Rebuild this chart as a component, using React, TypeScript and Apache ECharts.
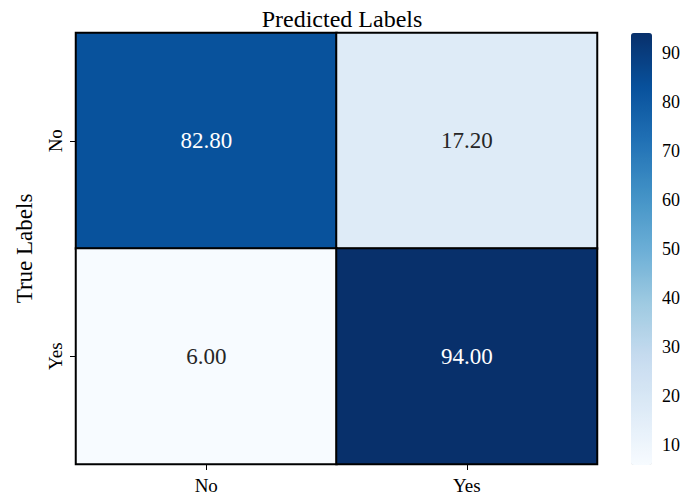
import React, { useEffect, useRef } from "react";
import * as echarts from "echarts";

const predictedLabels = ["No", "Yes"];
const trueLabels = ["No", "Yes"];
// rows = true label, cols = predicted label
const matrixValues = [
  [82.8, 17.2],
  [6.0, 94.0],
];
const colorbarTicks = [10, 20, 30, 40, 50, 60, 70, 80, 90];
const valueMin = 6;
const valueMax = 94;
const bluesColors = [
  "#f7fbff",
  "#deebf7",
  "#c6dbef",
  "#9ecae1",
  "#6baed6",
  "#4292c6",
  "#2171b5",
  "#08519c",
  "#08306b",
];

const FONT = "'Liberation Serif', 'Times New Roman', serif";

export default function App() {
  const ref = useRef<HTMLDivElement>(null);
  useEffect(() => {
    if (!ref.current) return;
    const chart = echarts.init(ref.current, null, { renderer: "svg" });
    const data: any[] = [];
    const mid = (valueMin + valueMax) / 2;
    matrixValues.forEach((row, r) => {
      row.forEach((v, c) => {
        data.push({
          value: [c, r, v],
          label: { color: v > mid ? "#ffffff" : "#262626" },
        });
      });
    });
    chart.setOption({
      animation: false,
      backgroundColor: "#ffffff",
      textStyle: { fontFamily: FONT },
      title: {
        text: "Predicted Labels",
        left: 337,
        top: 2,
        textAlign: "center",
        textStyle: { fontFamily: FONT, fontSize: 24, fontWeight: "normal", color: "#000" },
      },
      grid: [
        { left: 76, top: 33, width: 521, height: 431 },
        { left: 631, top: 33, width: 21, height: 432 },
      ],
      xAxis: [
        {
          type: "category",
          gridIndex: 0,
          data: predictedLabels,
          position: "bottom",
          axisLine: { show: false },
          axisTick: { show: true, alignWithLabel: true, length: 6, lineStyle: { color: "#000" } },
          axisLabel: { fontFamily: FONT, fontSize: 19, color: "#000", margin: 12 },
          splitArea: { show: false },
        },
        {
          type: "value",
          gridIndex: 1,
          show: false,
          min: 0,
          max: 1,
        },
      ],
      yAxis: [
        {
          type: "category",
          gridIndex: 0,
          data: trueLabels,
          inverse: true,
          axisLine: { show: false },
          axisTick: { show: true, alignWithLabel: true, length: 6, lineStyle: { color: "#000" } },
          axisLabel: { fontFamily: FONT, fontSize: 19, color: "#000", rotate: 90, margin: 11 },
          name: "True Labels",
          nameLocation: "middle",
          nameRotate: 90,
          nameGap: 40,
          nameTextStyle: { fontFamily: FONT, fontSize: 23, color: "#000" },
        },
        {
          type: "value",
          gridIndex: 1,
          position: "right",
          min: valueMin,
          max: valueMax,
          axisLine: { show: false },
          splitLine: { show: false },
          axisTick: {
            show: true,
            length: 5,
            customValues: colorbarTicks,
            lineStyle: { color: "#000" },
          },
          axisLabel: {
            fontFamily: FONT,
            fontSize: 18,
            color: "#000",
            margin: 10,
            customValues: colorbarTicks,
          },
        },
      ],
      visualMap: {
        type: "continuous",
        min: valueMin,
        max: valueMax,
        seriesIndex: 0,
        calculable: false,
        hoverLink: false,
        orient: "vertical",
        left: 631,
        top: 33,
        padding: 0,
        itemWidth: 21,
        itemHeight: 432,
        text: null,
        showLabel: false,
        inRange: { color: bluesColors },
      },
      series: [
        {
          type: "heatmap",
          xAxisIndex: 0,
          yAxisIndex: 0,
          data,
          itemStyle: { borderColor: "#000", borderWidth: 2 },
          label: {
            show: true,
            fontFamily: FONT,
            fontSize: 23,
            formatter: (p: any) => p.value[2].toFixed(2),
          },
          emphasis: { disabled: true },
        },
        {
          type: "scatter",
          xAxisIndex: 1,
          yAxisIndex: 1,
          data: [],
        },
      ],
    });
    return () => chart.dispose();
  }, []);
  return (
    <div
      ref={ref}
      style={{ position: "fixed", left: 0, top: 0, width: 686, height: 500, overflow: "visible" }}
    />
  );
}
